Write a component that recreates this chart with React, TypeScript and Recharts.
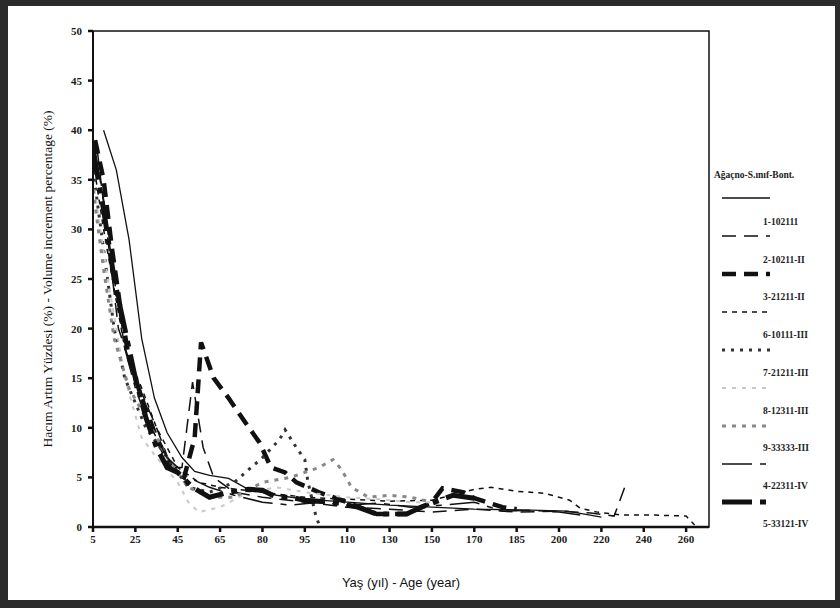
import React from "react";
import { LineChart, Line, XAxis, YAxis, ReferenceArea } from "recharts";

// evenly spaced category-style age labels on the x axis
const AGE_TICKS = [5, 25, 45, 65, 80, 95, 110, 130, 150, 170, 185, 200, 220, 240, 260];
const Y_TICKS = [0, 5, 10, 15, 20, 25, 30, 35, 40, 45, 50];

const NAMES = [
  "1-102111", "2-10211-II", "3-21211-II", "6-10111-III", "7-21211-III",
  "8-12311-III", "9-33333-III", "4-22311-IV", "5-33121-IV",
];

// [age, volume increment %]
const S1: [number, number][] = [
  [10, 40], [16, 36], [22, 29], [28, 19], [34, 13], [40, 9.5], [47, 7], [53, 5.6],
  [60, 5.2], [68, 4.9], [75, 3.8], [85, 3.2], [95, 2.8], [110, 2.5], [130, 2.2],
  [150, 2], [170, 1.8], [190, 1.7], [204, 1.6], [220, 1.0],
];
const S2: [number, number][] = [
  [7, 38], [12, 29], [17, 20], [25, 15], [35, 10], [42, 6], [47, 6], [52, 14.6],
  [57, 8], [62, 5], [70, 3.5], [80, 3], [95, 2.5], [110, 2], [130, 1.8], [150, 1.5],
  [170, 1.8], [185, 1.5], [200, 1.6], [215, 1.4], [226, 1.1], [231, 4.0],
];
const S3: [number, number][] = [
  [6, 39], [10, 35], [14, 28], [18, 22], [22, 17], [28, 13], [35, 9], [42, 6],
  [48, 5], [53, 9], [56, 18.6], [62, 15], [68, 13], [74, 10.5], [79, 8.5], [83, 6],
  [88, 5.5], [92, 4.5], [100, 3.5], [110, 2.5], [124, 1.3], [138, 1.3], [150, 2.5],
  [155, 3.9], [165, 3.5], [170, 2.9], [180, 2.0], [185, 1.8],
];
const S6: [number, number][] = [
  [5, 37], [10, 30], [15, 24], [20, 18], [28, 14], [35, 10], [45, 6], [55, 4.5],
  [65, 4], [80, 3.5], [95, 3], [110, 2.8], [130, 2.6], [150, 2.7], [170, 3.8],
  [176, 4.0], [185, 3.6], [195, 3.4], [200, 3.0], [205, 2.7], [210, 1.9], [218, 1.5],
  [230, 1.2], [245, 1.2], [260, 1.1], [264, 0.2],
];
const S7: [number, number][] = [
  [5, 36], [10, 28], [15, 20], [20, 15], [30, 10], [40, 7], [50, 4], [60, 3.5],
  [70, 4.5], [80, 7], [86, 8.8], [88, 9.8], [92, 8], [95, 6.8], [96, 4.7], [99, 1],
  [100, 0.3],
];
const S8: [number, number][] = [
  [5, 35], [12, 25], [20, 15], [28, 9], [35, 7], [45, 4.5], [50, 2.5], [55, 1.5],
  [65, 2], [75, 3.5], [85, 4], [95, 3.5], [110, 3], [125, 2.8], [140, 2.5], [150, 2.5],
];
const S9: [number, number][] = [
  [5, 34], [10, 26], [15, 19], [22, 14], [30, 11], [40, 7], [50, 4], [60, 3],
  [70, 3], [80, 4.5], [90, 5], [100, 6], [105, 6.8], [108, 5.8], [112, 4.0],
  [120, 3], [130, 3.2], [140, 3], [150, 2.5],
];
const S4: [number, number][] = [
  [5, 39], [10, 33], [15, 25], [20, 18], [25, 14], [30, 11], [40, 7], [50, 5],
  [60, 4], [70, 3.2], [80, 2.5], [90, 2.2], [100, 2.5], [110, 2.2], [125, 2.4],
  [140, 2.0], [155, 2.2], [170, 2.5], [180, 1.6], [190, 1.7], [200, 1.5], [210, 1.2],
];
const S5: [number, number][] = [
  [5, 38], [10, 32], [15, 25], [20, 20], [25, 15], [30, 11], [35, 8], [40, 6],
  [45, 5.5], [52, 4], [60, 3], [68, 3.5], [75, 3.8], [80, 3.7], [85, 3], [90, 3],
  [95, 2.7], [105, 2.5], [115, 2], [124, 1.3], [138, 1.3], [145, 2], [150, 2.4],
  [160, 3.2], [170, 2.9],
];

const POINTS = [S1, S2, S3, S6, S7, S8, S9, S4, S5];

const STYLES = [
  { color: "#111", width: 1.3, dash: undefined },
  { color: "#111", width: 1.5, dash: "14 8" },
  { color: "#111", width: 4.5, dash: "14 8" },
  { color: "#111", width: 1.5, dash: "5 5" },
  { color: "#333", width: 3, dash: "3 6" },
  { color: "#c8c8c8", width: 2, dash: "4 6" },
  { color: "#888", width: 3, dash: "4 6" },
  { color: "#111", width: 1.5, dash: "30 8 6 8" },
  { color: "#111", width: 5, dash: "30 8 6 8" },
];

// piecewise map an age onto the evenly spaced label positions
const toPos = (age: number) => {
  const t = AGE_TICKS;
  for (let i = 0; i < t.length - 1; i++) {
    if (age <= t[i + 1]) return i + (age - t[i]) / (t[i + 1] - t[i]);
  }
  return t.length - 1 + (age - t[t.length - 1]) / 20;
};

const X_MAX = 14.54;
const serif = "'Liberation Serif', 'DejaVu Serif', serif";
const tickStyle = { fill: "#1a1a1a", fontSize: 11, fontFamily: serif, fontWeight: 700 };

export default function App() {
  return (
    <div style={{ position: "absolute", left: 0, top: 0, width: 840, height: 608, background: "#fff", overflow: "hidden" }}>
      <LineChart width={840} height={608} margin={{ top: 31, right: 131, bottom: 21, left: 33 }}>
        <XAxis
          type="number"
          dataKey="pos"
          domain={[0, X_MAX]}
          ticks={AGE_TICKS.map((_, i) => i)}
          tickFormatter={(i: number) => String(AGE_TICKS[i])}
          interval={0}
          height={60}
          tick={tickStyle}
          tickSize={5}
          tickMargin={3}
          axisLine={{ stroke: "#111", strokeWidth: 2.5 }}
          tickLine={{ stroke: "#111", strokeWidth: 2.5 }}
          allowDataOverflow
          label={{
            value: "Yaş (yıl) - Age (year)",
            position: "insideBottom",
            offset: 0,
            style: { fill: "#111", fontSize: 13, fontFamily: "'Liberation Sans Narrow', 'Liberation Sans', sans-serif" },
          }}
        />
        <YAxis
          type="number"
          domain={[0, 50]}
          ticks={Y_TICKS}
          interval={0}
          width={60}
          tick={tickStyle}
          tickSize={5}
          tickMargin={6}
          axisLine={{ stroke: "#111", strokeWidth: 2 }}
          tickLine={{ stroke: "#111", strokeWidth: 2.5 }}
          label={{
            value: "Hacım Artım Yüzdesi (%) - Volume increment percentage (%)",
            angle: -90,
            position: "center",
            dx: -16,
            style: { fill: "#111", fontSize: 13.5, fontFamily: serif },
          }}
        />
        <ReferenceArea x1={0} x2={X_MAX} y1={0} y2={50} fill="none" stroke="#111" strokeWidth={1.5} />
        {POINTS.map((pts, i) => (
          <Line
            key={NAMES[i]}
            name={NAMES[i]}
            data={pts.map(([a, v]) => ({ pos: toPos(a), v }))}
            dataKey="v"
            type="linear"
            stroke={STYLES[i].color}
            strokeWidth={STYLES[i].width}
            strokeDasharray={STYLES[i].dash}
            dot={false}
            isAnimationActive={false}
          />
        ))}
      </LineChart>

      <div style={{ position: "absolute", left: 714, top: 170, fontFamily: serif, fontSize: 9.5, fontWeight: 700, color: "#222", whiteSpace: "nowrap" }}>
        Ağaçno-S.ınıf-Bont.
      </div>
      <svg width={840} height={608} style={{ position: "absolute", left: 0, top: 0, pointerEvents: "none" }}>
        {NAMES.map((n, i) => (
          <g key={n}>
            <line
              x1={722} x2={770} y1={198 + i * 38} y2={198 + i * 38}
              stroke={STYLES[i].color}
              strokeWidth={Math.max(STYLES[i].width, 1.5)}
              strokeDasharray={STYLES[i].dash}
            />
            <text x={763} y={225 + i * 37.7} fontFamily={serif} fontSize={9.5} fontWeight={700} fill="#222">{n}</text>
          </g>
        ))}
      </svg>
      <div style={{ position: "absolute", left: 0, top: 0, width: 840, height: 608, boxSizing: "border-box", borderStyle: "solid", borderColor: "#2b2b2b", borderWidth: "6px 5px 8px 8px", pointerEvents: "none" }} />
    </div>
  );
}
